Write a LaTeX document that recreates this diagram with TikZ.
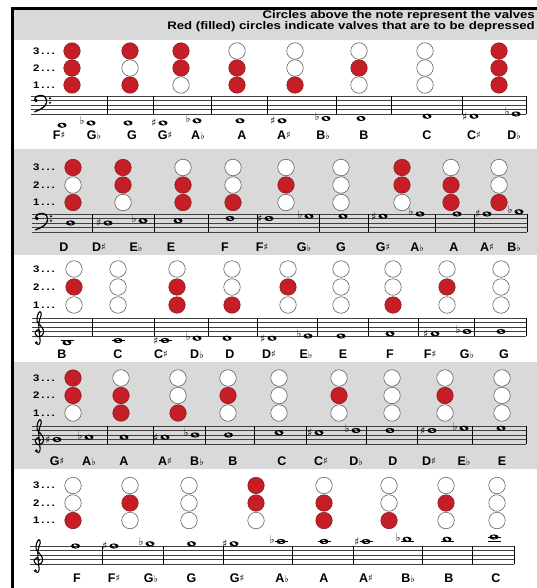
\documentclass[tikz,border=0pt]{standalone}
\usepackage{fontspec}
\setmainfont{Liberation Sans}
\newfontfamily\headfont[FakeStretch=1.2]{Liberation Sans}
\newfontfamily\valvefont[FakeStretch=1.2,LetterSpace=20]{Liberation Sans}
\newfontfamily\musicfont{DejaVu Sans}
\definecolor{valvered}{RGB}{198,30,38}
\definecolor{bandgray}{RGB}{217,217,217}
\newcommand{\sh}{{\musicfont\fontsize{9.5}{9.5}\selectfont\raisebox{1.2pt}{♯}}}
\newcommand{\fl}{{\musicfont\fontsize{9.5}{9.5}\selectfont ♭}}
\newcommand{\gs}{♯}
\newcommand{\gf}{♭}
\tikzset{
  vlR/.style     ={draw=valvered!65!black, fill=valvered, circle,
                   minimum size=16.5pt, inner sep=0pt, line width=0.5pt},
  vlW/.style     ={draw=black!60, fill=white, circle,
                   minimum size=16.5pt, inner sep=0pt, line width=0.6pt},
  vnum/.style    ={anchor=west, inner sep=0pt,
                   font=\valvefont\bfseries\fontsize{9.5}{10}\selectfont},
  nname/.style   ={inner sep=0pt, font=\bfseries\fontsize{12.5}{12.5}\selectfont},
  headtxt/.style ={anchor=north east, align=right, inner sep=0pt,
                   font=\headfont\bfseries\fontsize{11}{9.4}\selectfont},
  acc/.style     ={inner sep=0pt, font=\musicfont\bfseries\fontsize{10.5}{11}\selectfont},
  accs/.style    ={acc},
  accf/.style    ={acc, yshift=2pt},
  staffline/.style={line width=0.55pt, black!75},
  barline/.style ={line width=0.6pt},
  ledger/.style  ={line width=0.6pt},
  clefline/.style={line width=1.3pt, line cap=round},
  frame/.style   ={line width=2.6pt},
  wnote/.pic     ={\fill[even odd rule] (0,0) ellipse [x radius=4.6pt, y radius=2.6pt]
                   [rotate=-35] (0,0) ellipse [x radius=2.2pt, y radius=1.3pt];},
  bassclef/.pic  ={\fill (0,5) circle (2.1pt);
                   \draw[clefline] (-1.6,5) .. controls (-1.6,0.5) and (2.5,-0.8) .. (6,-0.6)
                     .. controls (10.5,-0.3) and (12.2,3.5) .. (11.6,7.5)
                     .. controls (11,11.5) and (5,15.5) .. (-1.5,17.5);
                   \fill (15.5,2.5) circle (1.2pt);
                   \fill (15.5,7.5) circle (1.2pt);},
  trebleclef/.pic={\draw[clefline, line width=1.1pt] plot[smooth, tension=0.65] coordinates
                     {(2.5,-4) (0,-7) (-3.2,-3.5) (0,0.8) (5,-1.2) (6,-6.5) (2.5,-12)
                      (-1,-16.5) (-0.3,-23.5) (2.2,-27) (3.6,-23.5) (1,-15) (1.4,-3)
                      (2.4,6) (0.5,9.5) (-2.2,7.8)};
                   \fill (-1.8,7.5) circle (1.7pt);},
}

\begin{document}
\begin{tikzpicture}[x=1pt,y=-1pt]
  \useasboundingbox (0,0) rectangle (537,588);
  \clip (0,0) rectangle (537,588);
  \fill[bandgray] (14,9.5) rectangle (537,40.5);
  \fill[bandgray] (14,149) rectangle (537,255);
  \fill[bandgray] (14,362) rectangle (537,469);
  \draw[frame] (12.6,588) -- (12.6,8.3) -- (537,8.3);
  \node[headtxt] (hdr) at (535,10.5)
    {Circles above the note represent the valves\\
     Red (filled) circles indicate valves that are to be depressed};

  % row 1
  \def\yb{114}
  \node[vnum] (r1v3) at (33,51) {3...};
  \node[vnum] (r1v2) at (33,68) {2...};
  \node[vnum] (r1v1) at (33,85) {1...};
  \foreach \x/\vc/\vb/\va [count=\k] in {72/R/R/R, 130/R/W/R, 181/R/R/W, 237/W/R/R,
      295/W/W/R, 359/W/R/W, 425/W/W/W, 499/R/R/R}{
    \node[vl\vc] (r1c\k-3) at (\x,51) {};
    \node[vl\vb] (r1c\k-2) at (\x,68) {};
    \node[vl\va] (r1c\k-1) at (\x,85) {};
  }
  \foreach \i in {0,...,4} \draw[staffline] (31,{\yb-4.5*\i}) -- (526,{\yb-4.5*\i});
  \foreach \x in {107.5,153,211.5,267,336,391.5,462,526} \draw[barline] (\x,{\yb-18}) -- (\x,\yb);
  \pic[scale=0.9] at (36,{\yb-18}) {bassclef};
  \foreach \x/\p/\a [count=\k] in {62/-5/n, 91/-4/f, 128/-4/n, 163/-4/s, 197/-3/f, 240/-3/n,
      282/-3/s, 326/-2/f, 361/-2/n, 427/-1/n, 474/-1/s, 516/0/f}{
    \pic at (\x,{\yb-2.25*(\p)}) {wnote};
    \if n\a\else\node[acc\a] (r1a\k) at ({\x-9},{\yb-2.25*(\p)}) {\csname g\a\endcsname};\fi
  }
  \foreach \x/\nm [count=\k] in {59/F\sh, 94/G\fl, 132/G, 165/G\sh, 198/A\fl, 242/A,
      284/A\sh, 323/B\fl, 364/B, 427/C, 474/C\sh, 514/D\fl}
    \node[nname] (r1n\k) at (\x,135.5) {\nm};

  % row 2
  \def\yb{232}
  \node[vnum] (r2v3) at (33,167.5) {3...};
  \node[vnum] (r2v2) at (33,185) {2...};
  \node[vnum] (r2v1) at (33,202.5) {1...};
  \foreach \x/\vc/\vb/\va [count=\k] in {73/R/W/R, 123/R/R/W, 183/W/R/R, 233/W/W/R,
      286/W/R/W, 341/W/W/W, 402/R/R/W, 451/W/R/R, 499/W/W/R}{
    \node[vl\vc] (r2c\k-3) at (\x,167.5) {};
    \node[vl\vb] (r2c\k-2) at (\x,185) {};
    \node[vl\va] (r2c\k-1) at (\x,202.5) {};
  }
  \foreach \i in {0,...,4} \draw[staffline] (32,{\yb-4.5*\i}) -- (527,{\yb-4.5*\i});
  \foreach \x in {92.5,154.5,208,257,319,368,435,474,527} \draw[barline] (\x,{\yb-18}) -- (\x,\yb);
  \pic[scale=0.9] at (37,{\yb-18}) {bassclef};
  \foreach \x/\p/\a [count=\k] in {70.5/4/n, 108/4/s, 143/5/f, 178/5/n, 230/6/n, 269/6/s,
      309/7/f, 343/7/n, 383/7/s, 420/8/f, 457/8/n, 487/8/s, 519/9/f}{
    \pic at (\x,{\yb-2.25*(\p)}) {wnote};
    \if n\a\else\node[acc\a] (r2a\k) at ({\x-9},{\yb-2.25*(\p)}) {\csname g\a\endcsname};\fi
  }
  \foreach \x/\nm [count=\k] in {64/D, 99/D\sh, 136/E\fl, 171/E, 225/F, 262/F\sh, 304/G\fl,
      341/G, 383/G\sh, 417/A\fl, 454/A, 487/A\sh, 514/B\fl}
    \node[nname] (r2n\k) at (\x,247.5) {\nm};

  % row 3
  \def\yb{336}
  \node[vnum] (r3v3) at (33,269) {3...};
  \node[vnum] (r3v2) at (33,287) {2...};
  \node[vnum] (r3v1) at (33,305) {1...};
  \foreach \x/\vc/\vb/\va [count=\k] in {74/W/R/W, 118/W/W/W, 177/W/R/R, 232/W/W/R,
      288/W/R/W, 341/W/W/W, 393/W/W/R, 447/W/R/W, 501/W/W/W}{
    \node[vl\vc] (r3c\k-3) at (\x,269) {};
    \node[vl\vb] (r3c\k-2) at (\x,287) {};
    \node[vl\va] (r3c\k-1) at (\x,305) {};
  }
  \foreach \i in {0,...,4} \draw[staffline] (32,{\yb-4.5*\i}) -- (526,{\yb-4.5*\i});
  \foreach \x in {92.5,154.5,208,257,317.5,368,418,474,526} \draw[barline] (\x,{\yb-18}) -- (\x,\yb);
  \pic[scale=0.9] at (38,\yb) {trebleclef};
  \foreach \x in {67,118,165} \draw[ledger] ({\x-6.5},{\yb+4.5}) -- ({\x+6.5},{\yb+4.5});
  \foreach \x/\p/\a [count=\k] in {67/-3/n, 118/-2/n, 165/-2/s, 197/-1/f, 227/-1/n, 272/-1/s,
      308/0/f, 341/0/n, 390/1/n, 435/1/s, 467/2/f, 501/2/n}{
    \pic at (\x,{\yb-2.25*(\p)}) {wnote};
    \if n\a\else\node[acc\a] (r3a\k) at ({\x-9},{\yb-2.25*(\p)}) {\csname g\a\endcsname};\fi
  }
  \foreach \x/\nm [count=\k] in {62/B, 118/C, 161/C\sh, 197/D\fl, 230/D, 269/D\sh, 306/E\fl,
      343/E, 390/F, 430/F\sh, 467/G\fl, 504/G}
    \node[nname] (r3n\k) at (\x,354.5) {\nm};

  % row 4
  \def\yb{444}
  \node[vnum] (r4v3) at (33,378) {3...};
  \node[vnum] (r4v2) at (33,395.5) {2...};
  \node[vnum] (r4v1) at (33,413) {1...};
  \foreach \x/\vc/\vb/\va [count=\k] in {73/R/R/W, 121/W/R/R, 178/W/W/R, 228/W/R/W,
      279/W/W/W, 339/W/R/W, 392/W/W/W, 445/W/R/W, 502/W/W/W}{
    \node[vl\vc] (r4c\k-3) at (\x,378) {};
    \node[vl\vb] (r4c\k-2) at (\x,395.5) {};
    \node[vl\va] (r4c\k-1) at (\x,413) {};
  }
  \foreach \i in {0,...,4} \draw[staffline] (32,{\yb-4.5*\i}) -- (526,{\yb-4.5*\i});
  \foreach \x in {107.5,153,205,254,306,366,417,472,526} \draw[barline] (\x,{\yb-18}) -- (\x,\yb);
  \pic[scale=0.9] at (38,\yb) {trebleclef};
  \foreach \x/\p/\a [count=\k] in {57/2/s, 89/3/f, 124/3/n, 165/3/s, 195/4/f, 228.5/4/n,
      279/5/n, 319/5/s, 356/6/f, 390/6/n, 432/6/s, 464/7/f, 501/7/n}{
    \pic at (\x,{\yb-2.25*(\p)}) {wnote};
    \if n\a\else\node[acc\a] (r4a\k) at ({\x-9},{\yb-2.25*(\p)}) {\csname g\a\endcsname};\fi
  }
  \foreach \x/\nm [count=\k] in {57/G\sh, 89/A\fl, 124/A, 165/A\sh, 197/B\fl, 233/B, 282/C,
      321/C\sh, 356/D\fl, 393/D, 429/D\sh, 464/E\fl, 502/E}
    \node[nname] (r4n\k) at (\x,461) {\nm};

  % row 5
  \def\yb{564}
  \node[vnum] (r5v3) at (33,485.5) {3...};
  \node[vnum] (r5v2) at (33,503) {2...};
  \node[vnum] (r5v1) at (33,520.5) {1...};
  \foreach \x/\vc/\vb/\va [count=\k] in {73/W/W/R, 130/W/R/W, 189/W/W/W, 256/R/R/W,
      324/W/R/R, 389/W/W/R, 446/W/R/W, 497/W/W/W}{
    \node[vl\vc] (r5c\k-3) at (\x,485.5) {};
    \node[vl\vb] (r5c\k-2) at (\x,503) {};
    \node[vl\va] (r5c\k-1) at (\x,520.5) {};
  }
  \foreach \i in {0,...,4} \draw[staffline] (30,{\yb-4.5*\i}) -- (514,{\yb-4.5*\i});
  \foreach \x in {102.5,163,223.5,292,353,422,472,514} \draw[barline] (\x,{\yb-18}) -- (\x,\yb);
  \pic[scale=0.9] at (37,\yb) {trebleclef};
  \foreach \x in {281,324,366,407,447,494} \draw[ledger] ({\x-6.5},{\yb-22.5}) -- ({\x+6.5},{\yb-22.5});
  \draw[ledger] (487.5,{\yb-27}) -- (500.5,{\yb-27});
  \foreach \x/\p/\a [count=\k] in {75.5/8/n, 114/8/s, 150/9/f, 191.5/9/n, 234/9/s, 281/10/f,
      324/10/n, 366/10/s, 407/11/f, 447/11/n, 494/12/n}{
    \pic at (\x,{\yb-2.25*(\p)}) {wnote};
    \if n\a\else\node[acc\a] (r5a\k) at ({\x-9},{\yb-2.25*(\p)}) {\csname g\a\endcsname};\fi
  }
  \foreach \x/\nm [count=\k] in {77/F, 114/F\sh, 151/G\fl, 191.5/G, 237/G\sh, 282/A\fl,
      324/A, 366/A\sh, 408/B\fl, 449/B, 496/C}
    \node[nname] (r5n\k) at (\x,578.5) {\nm};
\end{tikzpicture}
\end{document}
